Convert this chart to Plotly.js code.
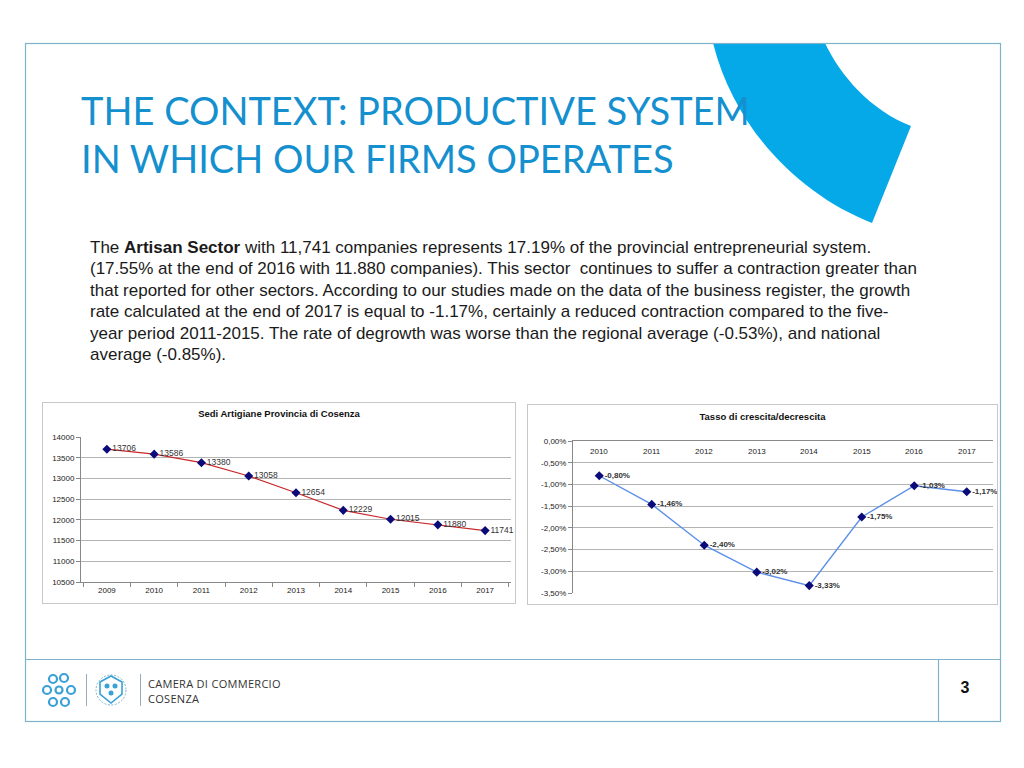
<!DOCTYPE html>
<html>
<head>
<meta charset="utf-8">
<script src="https://cdn.plot.ly/plotly-3.0.1.min.js"></script>
<style>
  html, body { margin:0; padding:0; background:#fff; }
  #slide { position:relative; width:1024px; height:768px; overflow:hidden; background:#fff; font-family:"Liberation Sans", Arial, sans-serif; }
  .abs { position:absolute; }
  #title { left:81px; top:86px; color:#1590cf; font-family:"Lato", "Open Sans", sans-serif; font-weight:400; font-size:38px; line-height:48px; letter-spacing:0px; white-space:nowrap; }
  #para { left:90px; top:237px; font-size:17px; line-height:21.4px; color:#1a1a1a; white-space:nowrap; }
  #chart1 { left:42px; top:402px; width:472px; height:200px; border:1px solid #c8c8c8; }
  #chart2 { left:527px; top:404px; width:469px; height:199px; border:1px solid #c8c8c8; }
  #pagenum { left:950px; top:679px; width:30px; text-align:center; font-weight:bold; font-size:16px; color:#111; }
  .cam { left:148px; font-family:"Open Sans", sans-serif; font-size:11px; line-height:15px; letter-spacing:0.3px; color:#333; white-space:nowrap; }
</style>
</head>
<body>
<div id="slide">
  <svg class="abs" style="left:0;top:0" width="1024" height="768">
    <!-- blue arc -->
    <path d="M713,43 L825,43 C840,75 870,110 911,126 L872,223 C800,195 735,130 713,43 Z" fill="#06a9e8"/>
    <!-- slide frame -->
    <rect x="25.5" y="43.5" width="975" height="678" fill="none" stroke="#7fb3cb" stroke-width="1.2"/>
    <line x1="25" y1="659.5" x2="1001" y2="659.5" stroke="#7fb3cb" stroke-width="1.2"/>
    <line x1="938.5" y1="659" x2="938.5" y2="722" stroke="#7fb3cb" stroke-width="1.2"/>
    <!-- logo 1 (stylised) -->
    <g fill="none" stroke="#3aa0d8" stroke-width="2.2">
      <circle cx="53" cy="679" r="4"/><circle cx="64" cy="678" r="4"/>
      <circle cx="47" cy="690" r="4"/><circle cx="59" cy="690" r="3.5"/><circle cx="71" cy="690" r="4"/>
      <circle cx="53" cy="702" r="4"/><circle cx="65" cy="702" r="4"/>
    </g>
    <line x1="86.5" y1="674" x2="86.5" y2="706" stroke="#9ab" stroke-width="1"/>
    <!-- logo 2 (seal) -->
    <circle cx="111" cy="690" r="15" fill="none" stroke="#7fb3cb" stroke-width="1" stroke-dasharray="2,1.5"/>
    <path d="M100,682 L111,676 L122,682 L122,694 L111,703 L100,694 Z" fill="none" stroke="#3aa0d8" stroke-width="1.6"/>
    <circle cx="107" cy="686" r="2.5" fill="#3aa0d8"/><circle cx="115" cy="686" r="2.5" fill="#3aa0d8"/><circle cx="111" cy="693" r="2.5" fill="#3aa0d8"/>
    <line x1="140.5" y1="674" x2="140.5" y2="706" stroke="#9ab" stroke-width="1"/>
  </svg>
  <div id="title" class="abs">THE CONTEXT: PRODUCTIVE SYSTEM<br>IN WHICH OUR FIRMS OPERATES</div>
  <div id="para" class="abs">The <b>Artisan Sector</b> with 11,741 companies represents 17.19% of the provincial entrepreneurial system.<br>(17.55% at the end of 2016 with 11.880 companies). This sector&nbsp; continues to suffer a contraction greater than<br>that reported for other sectors. According to our studies made on the data of the business register, the growth<br>rate calculated at the end of 2017 is equal to -1.17%, certainly a reduced contraction compared to the five-<br>year period 2011-2015. The rate of degrowth was worse than the regional average (-0.53%), and national<br>average (-0.85%).</div>
  <div id="chart1" class="abs"></div>
  <div id="chart2" class="abs"></div>
  <div class="abs cam" style="top:676px">CAMERA DI COMMERCIO</div>
  <div class="abs cam" style="top:691px">COSENZA</div>
  <div id="pagenum" class="abs">3</div>
</div>
<script>
// ---- Data ----
var yearsSedi = ['2009','2010','2011','2012','2013','2014','2015','2016','2017'];
var sediArtigiane = [13706, 13586, 13380, 13058, 12654, 12229, 12015, 11880, 11741];
var sediTicks = [10500, 11000, 11500, 12000, 12500, 13000, 13500, 14000];

var yearsTasso = ['2010','2011','2012','2013','2014','2015','2016','2017'];
var tassoCrescita = [-0.80, -1.46, -2.40, -3.02, -3.33, -1.75, -1.03, -1.17];
var tassoTicks = [0, -0.5, -1.0, -1.5, -2.0, -2.5, -3.0, -3.5];

function pct(v) { return v.toFixed(2).replace('.', ',') + '%'; }

var fam = 'Liberation Sans, Arial, sans-serif';
var tickFont = {family:fam, size:8, color:'#222'};
var cfg = {staticPlot:true, displayModeBar:false};

// ---- Chart 1 ----
Plotly.newPlot('chart1', [{
  x: yearsSedi, y: sediArtigiane, type:'scatter', mode:'lines+markers+text',
  line:{color:'#c8282a', width:1.2},
  marker:{symbol:'diamond', size:7, color:'#0a0a78'},
  text: sediArtigiane.map(String), textposition:'middle right',
  textfont:{family:fam, size:8.5, color:'#333'},
  cliponaxis:false, hoverinfo:'none'
}], {
  width:472, height:200, margin:{l:38, r:4, t:34, b:21},
  paper_bgcolor:'#fff', plot_bgcolor:'#fff', showlegend:false,
  title:{text:'<b>Sedi Artigiane Provincia di Cosenza</b>', x:0.5, xanchor:'center', y:0.945, yanchor:'middle',
         font:{family:fam, size:9.5, color:'#111'}},
  xaxis:{type:'category', tickson:'boundaries', ticks:'outside', ticklen:4, tickcolor:'#888',
         showline:true, linecolor:'#888', linewidth:1, showgrid:false, tickfont:tickFont, fixedrange:true},
  yaxis:{range:[10500,14000], tickvals:sediTicks, tickformat:'d', ticks:'outside', ticklen:4, tickcolor:'#888',
         showline:true, linecolor:'#888', gridcolor:'#b4b4b4', gridwidth:1, zeroline:false,
         tickfont:tickFont, fixedrange:true}
}, cfg);

// ---- Chart 2 ----
Plotly.newPlot('chart2', [{
  x: yearsTasso, y: tassoCrescita, type:'scatter', mode:'lines+markers+text',
  line:{color:'#5b8fe8', width:1.4},
  marker:{symbol:'diamond', size:7, color:'#0a0a78'},
  text: tassoCrescita.map(function(v){return '<b>' + pct(v) + '</b>';}),
  textposition:'middle right',
  textfont:{family:fam, size:8, color:'#333'},
  cliponaxis:false, hoverinfo:'none'
}], {
  width:469, height:199, margin:{l:45, r:4, t:36, b:11},
  paper_bgcolor:'#fff', plot_bgcolor:'#fff', showlegend:false,
  title:{text:'<b>Tasso di crescita/decrescita</b>', x:0.5, xanchor:'center', y:0.94, yanchor:'middle',
         font:{family:fam, size:9.5, color:'#111'}},
  xaxis:{type:'category', side:'top', showticklabels:false, ticks:'',
         range:[-0.5, yearsTasso.length - 0.5],
         showline:true, linecolor:'#888', linewidth:1, showgrid:false, fixedrange:true},
  yaxis:{range:[-3.5,0], tickvals:tassoTicks, ticktext:tassoTicks.map(pct), ticks:'outside', ticklen:4, tickcolor:'#888',
         showline:true, linecolor:'#888', gridcolor:'#b4b4b4', gridwidth:1, zeroline:false,
         tickfont:tickFont, fixedrange:true},
  annotations: yearsTasso.map(function(yr, i){
    return {x:i, y:0, xref:'x', yref:'y', text:yr, showarrow:false, yanchor:'top', yshift:-4, font:tickFont};
  })
}, cfg);
</script>
</body>
</html>
